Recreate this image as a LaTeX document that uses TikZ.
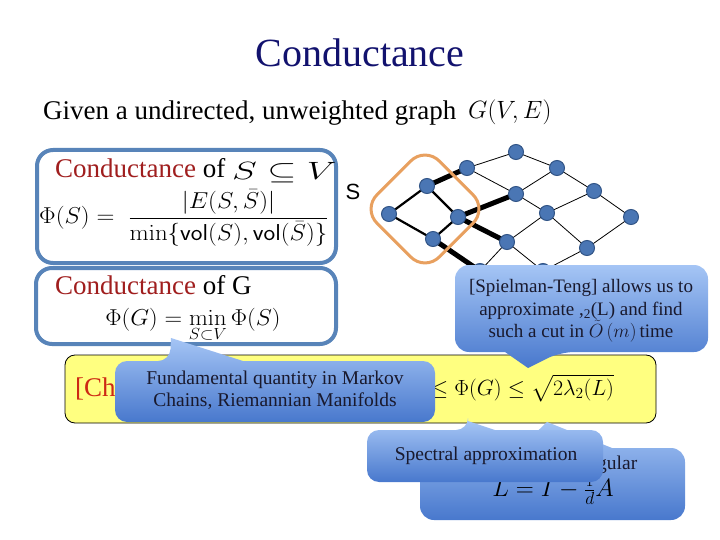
\RequirePackage{fix-cm}
\documentclass[tikz,border=0pt]{standalone}
\usepackage{amsmath,amssymb,graphicx}
\usepackage[no-math]{fontspec}
\setmainfont{Liberation Serif}
\newfontfamily\arialfont{Liberation Sans}
\definecolor{titleblue}{RGB}{18,18,110}
\definecolor{boxblue}{RGB}{88,132,185}
\definecolor{cred}{RGB}{160,30,30}
\definecolor{chered}{RGB}{205,40,20}
\definecolor{yel}{RGB}{255,255,128}
\definecolor{nodefill}{RGB}{74,118,180}
\definecolor{nodedraw}{RGB}{50,85,135}
\definecolor{sorange}{RGB}{232,160,95}
\definecolor{calltop}{RGB}{165,197,245}
\definecolor{callbot}{RGB}{72,120,205}
\definecolor{calltext}{RGB}{25,25,45}
\newcommand{\fsz}[1]{\fontsize{#1}{#1}\selectfont}
\newcommand{\fszl}[2]{\fontsize{#1}{#2}\selectfont}
\begin{document}
\begin{tikzpicture}[x=1pt,y=-1pt,
  bigbox/.style={draw=boxblue,line width=4pt,rounded corners=16pt,fill=white},
  gnode/.style={circle,fill=nodefill,draw=nodedraw,line width=1pt,minimum size=15pt,inner sep=0pt},
  thinedge/.style={line width=0.8pt},
  midedge/.style={line width=2.2pt},
  cutedge/.style={line width=5pt},
  callout/.style={top color=calltop,bottom color=callbot,draw=none},
  calltxt/.style={text=calltext,align=center,inner sep=0pt,font=\fszl{19.5}{22}},
  txt/.style={inner sep=0pt},
]
\useasboundingbox (0,0) rectangle (720,540);

% title and intro
\node[txt,anchor=base,text=titleblue,font=\fsz{40}] (title) at (360,67) {Conductance};
\node[txt,anchor=base west,font=\fsz{27}] (given) at (43,120) {Given a undirected, unweighted graph};
\node[txt,anchor=base west,font=\fsz{25}] (gve) at (468,119) {$G(V,E)$};

% box 1
\draw[bigbox] (37,150) rectangle (336,263);
\node[txt,anchor=base west,font=\fsz{27}] (cond1) at (55,178) {\textcolor{cred}{Conductance} of};
\node[txt,anchor=base west,font=\fsz{25}] (ssv) at (232,180) {\scalebox{1.5}[1]{$S\subseteq V$}};
\node[txt,anchor=base west,font=\fsz{23}] (phis) at (39,224)
  {\scalebox{1.08}[1]{$\Phi(S) = \;\dfrac{|E(S,\bar S)|}{\min\{\mathsf{vol}(S),\mathsf{vol}(\bar S)\}}$}};

% box 2
\draw[bigbox] (36,268) rectangle (336,344);
\node[txt,anchor=base west,font=\fsz{27}] (cond2) at (55,294) {\textcolor{cred}{Conductance} of G};
\node[txt,anchor=base,font=\fsz{23}] (phig) at (193,325) {\scalebox{1.06}[1]{$\displaystyle \Phi(G) = \min_{S\subset V}\Phi(S)$}};

% graph
\node[txt,font=\arialfont\fsz{22}] (slabel) at (353,192) {S};
\foreach \n/\x/\y in {n1/389/214,n2/427/186,n3/433/239,n4/458/217,n5/467/168,n6/516/152,
  n7/557/168,n8/516/194,n9/547/213,n10/594/191,n11/631/217,n12/507/242,n13/587/248,
  n14/480/271,n15/543/271}
  \coordinate (\n) at (\x,\y);
\foreach \a/\b in {n5/n6,n6/n7,n5/n8,n7/n8,n7/n10,n8/n9,n9/n10,n10/n11,n9/n13,n11/n13,
  n9/n12,n12/n14,n12/n15,n13/n15}
  \draw[thinedge] (\a) -- (\b);
\foreach \a/\b in {n1/n2,n1/n3,n2/n4,n3/n4}
  \draw[midedge] (\a) -- (\b);
\foreach \a/\b in {n2/n5,n4/n8,n4/n12,n3/n14}
  \draw[cutedge] (\a) -- (\b);
\foreach \n in {n1,n2,n3,n4,n5,n6,n7,n8,n9,n10,n11,n12,n13,n14,n15}
  \node[gnode] (v\n) at (\n) {};
\draw[sorange,line width=3pt,rounded corners=20pt,rotate around={45:(425,209)}]
  (381,165) rectangle (469,253);

% yellow box
\draw[fill=yel,line width=0.8pt,rounded corners=10pt] (65,355) rectangle (656,423);
\node[txt,anchor=base west,text=chered,font=\fsz{27}] (che) at (75,396) {[Che};
\node[txt,anchor=base west,font=\fsz{22}] (ineq) at (431,395) {$\le \Phi(G) \le \sqrt{2\lambda_2(L)}$};

% Spielman-Teng callout
\shade[callout,rounded corners=14pt] (455,265) -- (708,265) -- (708,352) -- (560,352)
  [sharp corners] -- (528,368) -- (505,352) [rounded corners=14pt] -- (455,352) -- cycle;
\node[calltxt,font=\fszl{19}{22.5}] (spiel) at (581,311) {[Spielman-Teng] allows us to\\approximate ,\textsubscript{2}(L) and find\\such a cut in $\tilde O\,(m)$\,time};

% Fundamental callout
\shade[callout,rounded corners=12pt] (115,422) -- (115,361) -- (170,361)
  [sharp corners] -- (171,338) -- (243,361) [rounded corners=12pt] -- (435,361) -- (435,422) -- cycle;
\node[calltxt] (fund) at (275,390) {Fundamental quantity in Markov\\Chains, Riemannian Manifolds};

% d-regular box
\shade[callout,rounded corners=14pt] (420,520) -- (420,448) -- (520,448)
  [sharp corners] -- (547,422) -- (612,448) [rounded corners=14pt] -- (685,448) -- (685,520) -- cycle;
\node[txt,anchor=base west,text=calltext,font=\fsz{19.5}] (gular) at (597,469) {gular};
\node[txt,font=\fsz{25}] (lap) at (553,490) {$L = I - \frac{1}{d}A$};

% Spectral approximation callout
\shade[callout,rounded corners=12pt] (367,482) -- (367,430) -- (468,430)
  [sharp corners] -- (468,421) -- (495,430) [rounded corners=12pt] -- (603,430) -- (603,482) -- cycle;
\node[calltxt] (spec) at (486,456) {Spectral approximation};
\end{tikzpicture}
\end{document}
